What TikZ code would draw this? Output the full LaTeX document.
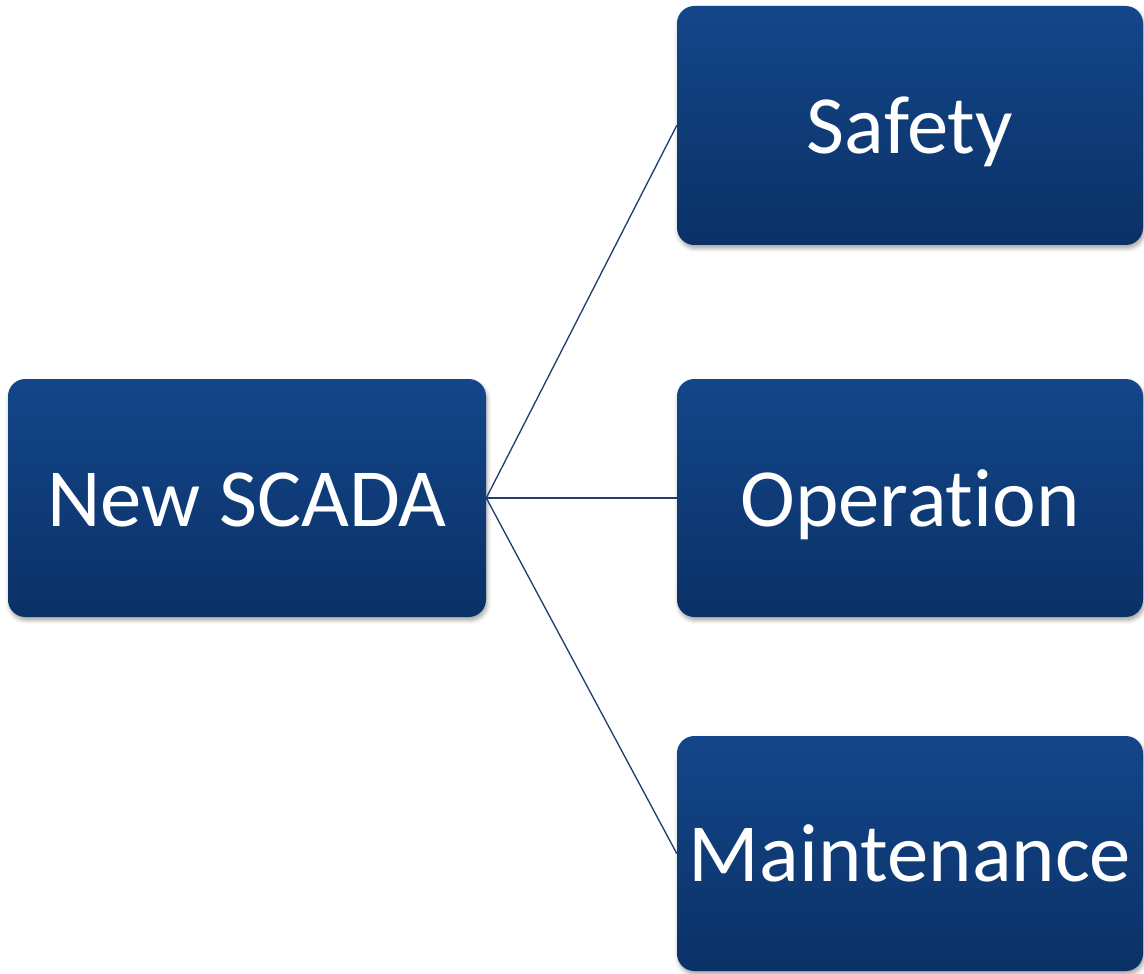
\documentclass[tikz,border=0pt]{standalone}
\usepackage{fontspec}
\setmainfont{Carlito}[Ligatures=NoCommon]
\usetikzlibrary{shadows.blur}
\definecolor{boxtop}{HTML}{13468A}
\definecolor{boxbot}{HTML}{0B3166}
\definecolor{linec}{HTML}{1F3F6E}
\begin{document}
\begin{tikzpicture}[x=0.75pt,y=-0.75pt,
  box/.style={rectangle, rounded corners=13pt, top color=boxtop, bottom color=boxbot,
    draw=none, text=white, font=\fontsize{62}{70}\selectfont, inner sep=0pt,
    text height=42pt, text depth=0pt,
    blur shadow={shadow xshift=1pt, shadow yshift=-2.5pt, shadow blur radius=3pt, shadow opacity=35}},
  conn/.style={draw=linec, line width=1pt}]
\useasboundingbox (0,0) rectangle (1144,973);
\node[box, minimum width=358.5pt, minimum height=178.5pt] (scada) at (247,498) {New SCADA};
\node[box, minimum width=349.5pt, minimum height=179.25pt] (safety) at (910,125.5) {Safety};
\node[box, minimum width=349.5pt, minimum height=178.5pt] (oper) at (910,498) {Operation};
\node[box, minimum width=349.5pt, minimum height=176.25pt] (maint) at (910,853.5) {Maintenance};
\draw[conn] (scada.east) -- (safety.west);
\draw[conn] (scada.east) -- (oper.west);
\draw[conn] (scada.east) -- (maint.west);
\end{tikzpicture}
\end{document}
